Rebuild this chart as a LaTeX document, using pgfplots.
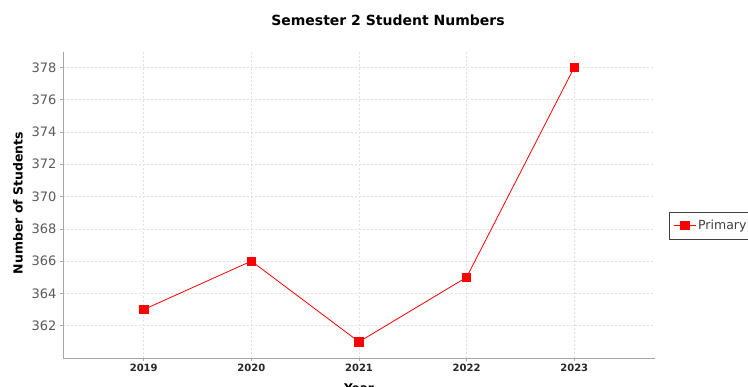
\documentclass[border=0pt]{standalone}
\usepackage{pgfplots}
\pgfplotsset{compat=1.18}
\usepackage{fontspec}
\setmainfont{DejaVu Sans}
\begin{document}
\begin{tikzpicture}[x=1pt,y=1pt]
\path[use as bounding box] (0,0) rectangle (748,387);
\begin{axis}[
  at={(63pt,29pt)}, anchor=south west,
  scale only axis, width=592pt, height=306pt,
  xmin=2018.25, xmax=2023.75, ymin=360.0, ymax=378.95,
  xtick={2019,2020,2021,2022,2023},
  ytick={362,364,...,378},
  xticklabel style={font=\fontsize{10}{12}\selectfont\bfseries, text=black!85},
  yticklabel style={font=\fontsize{13}{15}\selectfont, text=black!65},
  /pgf/number format/assume math mode=true,
  /pgf/number format/1000 sep={},
  axis x line*=bottom, axis y line*=left,
  axis line style={gray!70, line width=0.8pt, -},
  tick style={gray!70, line width=0.6pt},
  tick align=outside, major tick length=3pt,
  grid=major,
  major grid style={gray!25, dash pattern=on 2pt off 2pt, line width=0.5pt},
  ylabel={\bfseries Number of Students},
  every axis y label/.style={at={(-45pt,155pt)}, rotate=90, anchor=center},
  ylabel style={font=\fontsize{12.5}{14}\selectfont},
  xlabel={\bfseries Year},
  every axis x label/.style={at={(axis description cs:0.5,0)}, anchor=north, yshift=-22pt},
  xlabel style={font=\fontsize{12}{14}\selectfont},
  title={\bfseries Semester 2 Student Numbers},
  title style={at={(axis description cs:0.549,1)}, anchor=south, yshift=17pt, font=\fontsize{14}{16}\selectfont},
  legend style={at={(606pt,132.5pt)}, anchor=west, draw=black!75, line width=0.7pt,
    font=\fontsize{12.5}{14}\selectfont, inner xsep=4pt, inner ysep=6pt, text=black!75},
  legend image code/.code={\draw[#1] (0pt,0pt) -- (22pt,0pt); \draw[#1, mark repeat=2, mark phase=2] plot coordinates {(0pt,0pt) (11pt,0pt) (22pt,0pt)};},
  legend cell align=left,
  clip=false,
]
\addplot[red, line width=0.8pt, mark=square*, mark size=4.2pt, mark options={fill=red, draw=red}]
  coordinates {(2019,363) (2020,366) (2021,361) (2022,365) (2023,378)};
\addlegendentry{Primary}
\end{axis}
\end{tikzpicture}
\end{document}
